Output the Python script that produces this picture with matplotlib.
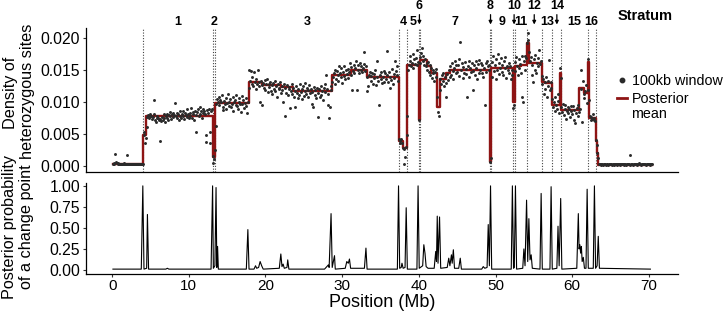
import numpy as np
import matplotlib
matplotlib.use("Agg")
import matplotlib.pyplot as plt
from matplotlib.lines import Line2D
from matplotlib.ticker import FormatStrFormatter
from matplotlib.transforms import blended_transform_factory

plt.rcParams['font.family'] = ['Liberation Sans', 'DejaVu Sans']

# density of heterozygous sites per 100kb window, units of 1e-4
# windows start at 0.1 Mb, one every 0.1 Mb
dens_pre = [3, 2, 5, 19, 6, 4, 3, 5, 3, 2,
            3, 2, 3, 2, 4, 3, 2, 3, 2, 17,
            3, 2, 2, 3, 2, 3, 2, 3, 2, 2,
            3, 2, 2, 3, 2, 3, 2, 3, 2, 3]
dens_s1 = [48, 52, 36, 44, 61, 76, 79, 74, 80, 77,
           78, 73, 76, 103, 80, 72, 69, 75, 78, 74,
           71, 39, 73, 70, 76, 72, 80, 74, 69, 77,
           81, 75, 72, 79, 84, 78, 73, 80, 76, 82,
           79, 98, 77, 74, 83, 80, 71, 78, 86, 75,
           80, 77, 85, 73, 82, 79, 88, 76, 81, 74,
           83, 78, 90, 75, 84, 80, 72, 86, 79, 53,
           84, 88, 77, 92, 81, 85, 74, 89, 82, 86,
           80, 37, 48, 87, 83, 89, 52, 35, 85, 88]
dens_s2 = [15, 5, 10, 24]
dens_s3 = [62, 97, 104, 100, 108, 95, 103, 99, 110, 92,
           87, 101, 96, 106, 89, 98, 112, 94, 100, 104,
           91, 97, 107, 86, 99, 102, 95, 111, 93, 88,
           100, 105, 97, 84, 109, 96, 103, 90, 98, 106,
           94, 82, 99,
           122, 150, 133, 148, 128, 138, 125, 147, 131, 119,
           135, 127, 149, 130, 124, 100, 132, 126, 95, 129,
           121, 134, 118, 128, 136, 115, 127, 123, 131, 117,
           126, 112, 129, 120, 133, 116, 124, 108, 127, 119,
           122, 131, 113, 125, 118, 100, 128, 78, 121, 114,
           126, 110, 119, 123, 90, 117, 128, 112, 121, 108,
           116, 92, 124, 113, 106, 120, 111, 127, 115, 104,
           119, 125, 109, 117, 129, 112, 121, 107, 118, 126,
           113, 120, 97, 115, 91, 123, 110, 118, 105, 121,
           114, 76, 119, 108, 124, 111, 117, 103, 122, 115,
           128, 142, 120, 112, 95, 74, 92, 118, 125,
           130, 139, 145, 127, 150, 136, 148, 141, 133, 155,
           144, 138, 152, 129, 147, 140, 156, 135, 149, 143,
           137, 151, 146, 160, 142, 154, 118, 148, 158, 145,
           152, 163, 118, 150, 157, 144, 161, 149, 155, 146,
           153, 159, 177, 148, 156, 116, 138, 125, 142, 147,
           140, 133, 145, 128, 143, 137, 150, 126, 164, 139,
           132, 95, 141, 135, 146, 129, 138, 148, 131, 144,
           136, 179, 142, 130, 147, 121, 139, 134, 151, 128,
           143, 137, 164, 148, 141, 155, 133]
dens_s4 = [42, 38, 36, 41, 35, 28, 2, 26, 13, 30, 48]
dens_s5 = [77, 150, 158, 163, 171, 155, 160, 174, 152, 166, 159, 168, 157, 181, 162]
dens_s6 = [72]
dens_s7 = [170, 160, 176, 183, 163, 172, 158, 167, 155, 161,
           150, 162, 146, 157, 141, 153, 137, 149, 144, 133,
           147, 139, 151, 108, 84, 77, 118, 135, 127, 141,
           132, 145, 124, 138, 108, 129, 143, 134, 150, 139,
           155, 142, 161, 148, 136, 152, 163, 144, 157, 147,
           158, 140, 166, 193, 149, 160, 137, 154, 145, 162,
           151, 143, 107, 156, 164, 139, 152, 146, 160, 118,
           148, 157, 141, 163, 153, 136, 159, 145, 165, 150,
           161, 144, 157, 139, 152, 95, 160, 147, 164, 155,
           149, 158]
dens_s8 = [6, 12]
dens_s9 = [139, 162, 171, 148, 157, 135, 166, 150, 174, 143,
           160, 153, 168, 146, 158, 141, 163, 152, 170, 137,
           155, 149, 161, 144, 156, 136, 150, 142]
dens_s10 = [90, 95]
dens_s11 = [162, 148, 170, 155, 141, 166, 152, 159, 145, 172, 108, 100, 163, 150, 171, 168]
dens_s12 = [192, 207, 196, 178, 163, 170, 142, 158, 131, 166,
            150, 173, 145, 161, 168, 155, 181, 159, 164]
dens_s13 = [140, 127, 135, 112, 130, 120, 138, 108, 133, 125, 165, 118, 131, 122]
dens_s14 = [104, 92, 99, 86, 108, 95, 89, 101, 112, 83, 152, 137]
dens_s15 = [92, 84, 97, 79, 88, 95, 73, 86, 91, 82,
            89, 76, 94, 85, 80, 93, 71, 87, 66, 83,
            90, 78, 95, 84, 88, 120, 150, 69, 133, 112,
            105, 116, 126, 98, 118]
dens_s16 = [166, 102, 78, 71, 76, 73, 80, 72, 75, 70]
dens_post = [40, 33, 20, 12, 3,
             2, 1, 2, 2, 1, 2, 3, 2, 1, 2,
             2, 1, 2, 2, 3, 2, 1, 2, 2, 1,
             2, 3, 2, 1, 2, 2, 1, 2, 2, 3,
             2, 1, 2, 2, 1, 2, 2, 3, 2, 1,
             17, 2, 2, 1, 2, 2, 3, 2, 2, 1,
             2, 4, 3, 2, 1, 2, 2, 3, 2, 2,
             1, 2, 2, 3, 2, 1, 2, 2, 2]

density = np.array(dens_pre + dens_s1 + dens_s2 + dens_s3 + dens_s4 + dens_s5 + dens_s6
                   + dens_s7 + dens_s8 + dens_s9 + dens_s10 + dens_s11 + dens_s12
                   + dens_s13 + dens_s14 + dens_s15 + dens_s16 + dens_post) * 1e-4
window_mb = 0.1 + 0.1 * np.arange(len(density))

# posterior mean (step starts in Mb, level in units of 1e-3)
mean_start = [0.1, 4.05, 4.4, 13.1, 13.45, 17.8, 19.5, 22.0, 23.6, 28.7,
              31.1, 33.2, 37.4, 37.9, 38.5, 40.0, 40.1, 41.0, 41.6, 42.4,
              42.7, 43.5, 44.0, 49.25, 49.45, 52.3, 52.55, 53.3, 54.15, 54.35,
              56.0, 56.4, 57.4, 58.35, 58.55, 60.9, 61.5, 62.0, 62.15, 63.05,
              63.2, 63.35, 70.45]
mean_level = [0.25, 4.8, 7.8, 1.4, 9.8, 13.0, 12.6, 12.3, 11.7, 14.2,
              15.0, 13.9, 3.8, 2.8, 15.7, 7.2, 16.5, 15.5, 14.4, 9.2,
              13.6, 14.4, 15.0, 0.6, 15.3, 10.0, 15.5, 15.8, 19.1, 16.1,
              13.1, 12.9, 9.5, 14.5, 8.7, 12.1, 11.3, 16.2, 7.4, 3.8,
              2.0, 0.1, 0.1]

# stratum boundaries (Mb) and labels
boundaries = [4.05, 13.1, 13.45, 37.4, 38.5, 40.0, 40.15, 49.25, 49.45,
              52.3, 52.55, 54.1, 56.0, 57.4, 58.6, 62.05, 63.05]
strata = [str(i) for i in range(1, 17)]
stratum_arrow = [0, 0, 0, 0, 0, 1, 0, 1, 0, 1, 0, 1, 0, 1, 0, 0]

# posterior probability of a change point (vertices of the trace)
cp_x = [0.1, 3.8, 4.0, 4.15, 4.5, 4.6, 4.75, 7.0, 7.2, 7.4,
        12.9, 13.1, 13.2, 13.4, 13.55, 13.65, 13.75, 13.85,
        17.5, 17.7, 17.85, 18.5, 18.7, 18.85, 19.1, 19.3, 19.5, 19.7,
        21.8, 22.0, 22.15, 22.3, 22.45, 22.8, 22.9, 23.05,
        27.7, 28.0, 28.2, 28.3, 28.55, 28.7, 29.0, 29.1,
        30.4, 30.6, 30.8, 30.95, 31.1, 32.9, 33.1, 33.25,
        37.2, 37.35, 37.5, 37.7, 37.8, 37.95, 38.2, 38.35, 38.5,
        39.75, 39.9, 40.05, 40.5, 40.65, 40.8, 40.95, 41.2,
        42.0, 42.2, 42.3, 42.4, 42.5, 42.7, 42.85,
        43.7, 43.9, 44.05, 44.25, 44.35, 44.5, 44.65, 45.2, 45.4, 45.55,
        48.2, 48.4, 48.6, 48.9, 49.05, 49.2, 49.35, 49.5,
        52.05, 52.2, 52.35, 52.45, 52.6, 52.75,
        53.55, 53.7, 53.85, 54.05, 54.2, 54.35, 54.5, 54.65, 54.8,
        55.8, 55.95, 56.1, 57.1, 57.25, 57.4,
        58.0, 58.15, 58.3, 58.5, 58.65,
        60.6, 60.8, 60.9, 61.0, 61.1, 61.2, 61.3, 61.45, 61.6,
        61.8, 61.95, 62.1, 62.75, 62.9, 63.05, 63.25, 63.4, 63.55, 70.2]
cp_p = [0.01, 0.01, 1.0, 0.01, 0.02, 0.66, 0.01, 0.01, 0.02, 0.01,
        0.01, 1.0, 0.02, 0.05, 0.98, 0.03, 0.28, 0.01,
        0.01, 0.48, 0.01, 0.01, 0.05, 0.02, 0.03, 0.10, 0.05, 0.01,
        0.02, 0.19, 0.04, 0.07, 0.02, 0.03, 0.12, 0.01,
        0.01, 0.04, 0.06, 0.03, 0.67, 0.03, 0.17, 0.01,
        0.02, 0.10, 0.08, 0.13, 0.02, 0.02, 0.26, 0.01,
        0.01, 1.0, 0.02, 0.03, 0.08, 0.02, 0.03, 0.74, 0.01,
        0.01, 1.0, 0.02, 0.05, 0.30, 0.20, 0.04, 0.02,
        0.02, 0.22, 0.10, 0.64, 0.08, 0.63, 0.02,
        0.03, 0.14, 0.05, 0.18, 0.08, 0.24, 0.02, 0.02, 0.14, 0.01,
        0.01, 0.04, 0.02, 0.03, 0.54, 0.05, 1.0, 0.01,
        0.01, 1.0, 0.02, 0.03, 1.0, 0.01,
        0.02, 0.25, 0.05, 0.83, 0.10, 0.61, 0.12, 0.18, 0.02,
        0.01, 0.91, 0.01, 0.01, 0.99, 0.01,
        0.02, 0.52, 0.05, 0.85, 0.01,
        0.02, 0.67, 0.25, 0.30, 0.20, 0.28, 0.10, 0.15, 0.02,
        0.02, 0.96, 0.02, 0.02, 1.0, 0.02, 0.05, 0.40, 0.02, 0.01]

red = '#8E1414'
W, H = 725, 313
fig = plt.figure(figsize=(W / 100, H / 100), dpi=100)
ax1 = fig.add_axes([85.7 / W, 1 - 172 / H, (678 - 85.7) / W, 144 / H])
ax2 = fig.add_axes([85.7 / W, 1 - 274 / H, (678 - 85.7) / W, 91.5 / H])

# top panel
for b in boundaries:
    ax1.axvline(b, color='#444444', lw=0.8, ls=(0, (1, 1.5)), zorder=1)
ax1.step(mean_start, np.array(mean_level) * 1e-3, where='post', color=red, lw=1.7, zorder=2)
ax1.scatter(window_mb, density, s=4.5, color='#2a2a2a', linewidths=0, zorder=3)
ax1.set_xlim(-3.45, 73.8)
ax1.set_ylim(-0.00098, 0.0215)
ax1.set_yticks([0, 0.005, 0.01, 0.015, 0.02])
ax1.yaxis.set_major_formatter(FormatStrFormatter('%.3f'))
ax1.set_xticks([])

# bottom panel
ax2.plot(cp_x, cp_p, color='black', lw=0.8)
ax2.set_xlim(-3.45, 73.8)
ax2.set_ylim(-0.048, 1.04)
ax2.set_yticks([0, 0.25, 0.5, 0.75, 1.0])
ax2.yaxis.set_major_formatter(FormatStrFormatter('%.2f'))
ax2.set_xticks(range(0, 71, 10))

for ax in (ax1, ax2):
    for s in ('top', 'right'):
        ax.spines[s].set_visible(False)
    for s in ('left', 'bottom'):
        ax.spines[s].set_linewidth(0.9)
    ax.tick_params(length=2.5, width=0.8, color='#333333', labelsize=11.3, pad=1.5)
ax2.tick_params(axis='x', pad=1.0, labelsize=11)

# stratum labels
trans = blended_transform_factory(ax1.transData, ax1.transAxes)
for i, lab in enumerate(strata):
    mid = (boundaries[i] + boundaries[i + 1]) / 2
    if stratum_arrow[i]:
        ax1.text(mid, 1.153, lab, transform=trans, ha='center', va='center',
                 fontsize=9, fontweight='bold', clip_on=False)
        ax1.annotate('', xy=(mid, 1.005), xycoords=trans, xytext=(mid, 1.112), textcoords=trans,
                     arrowprops=dict(arrowstyle='-|>', lw=0.9, color='black', mutation_scale=5))
    else:
        ax1.text(mid, 1.042, lab, transform=trans, ha='center', va='center',
                 fontsize=9, fontweight='bold', clip_on=False)
fig.text(645 / W, 1 - 15.7 / H, 'Stratum', ha='center', va='center', fontsize=10.5, fontweight='bold')

# axis titles
fig.text(10 / W, 1 - 93 / H, 'Density of', rotation=90, ha='center', va='center', fontsize=11.7)
fig.text(28 / W, 1 - 91 / H, 'heterozygous sites', rotation=90, ha='center', va='center', fontsize=11.7)
fig.text(10 / W, 1 - 227 / H, 'Posterior probability', rotation=90, ha='center', va='center', fontsize=11.7)
fig.text(27 / W, 1 - 227 / H, 'of a change point', rotation=90, ha='center', va='center', fontsize=11.7)
fig.text(382 / W, 1 - 294 / H, 'Position (Mb)', ha='center', va='top', fontsize=13)

# legend
handles = [Line2D([], [], ls='', marker='o', ms=3.2, color='#2a2a2a'),
           Line2D([], [], color=red, lw=2)]
fig.legend(handles, ['100kb window', 'Posterior'], loc='upper left',
           bbox_to_anchor=(617 / W, 1 - 74 / H), frameon=False, fontsize=10.3,
           handlelength=0.7, handletextpad=0.35, labelspacing=0.25,
           borderaxespad=0, borderpad=0)
fig.text(631 / W, 1 - 114.5 / H, 'mean', ha='left', va='center', fontsize=10.3)

fig.savefig('out.png', dpi=100)
